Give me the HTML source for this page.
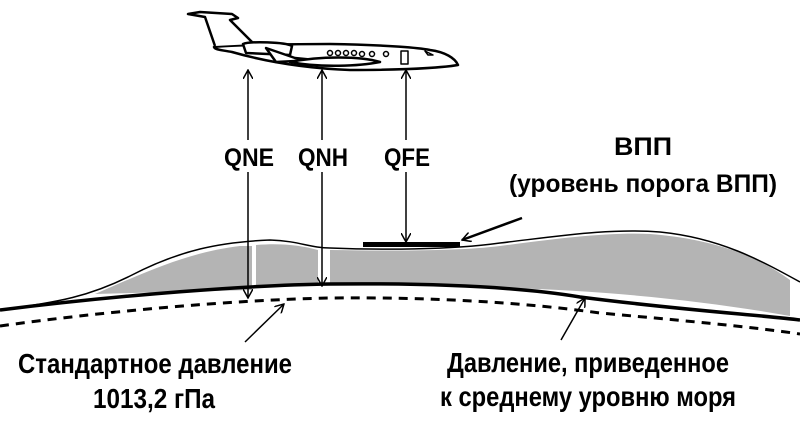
<!DOCTYPE html>
<html><head><meta charset="utf-8"><style>body{margin:0;background:#fff}svg{display:block}</style></head><body>
<svg width="800" height="442" viewBox="0 0 800 442" xmlns="http://www.w3.org/2000/svg" font-family="Liberation Sans, sans-serif" font-weight="bold">
<rect width="800" height="442" fill="#fff"/>
<defs><marker id="a" markerWidth="10" markerHeight="10" refX="9" refY="5" orient="auto-start-reverse" markerUnits="userSpaceOnUse"><path d="M0,0 L9,5 L0,10" fill="none" stroke="#000" stroke-width="1.5"/></marker></defs>
<path d="M95,294 C150,270 190,252 240,246 L252,246 L252,290 Z" fill="#b4b4b4"/>
<path d="M256,245 C280,243 300,245 318,250 L318,284 L256,288 Z" fill="#b4b4b4"/>
<path d="M330,250 C400,251 460,251 500,246 C560,238 610,232 650,234 C700,238 750,250 790,280 L790,316 C700,300 600,290 500,288 C430,285 380,284 330,284 Z" fill="#b4b4b4"/>
<path d="M0,310 C60,302 90,296 130,276 C180,250 220,242 270,240 C300,241 310,248 330,248 C380,250 450,250 500,243 C560,236 610,228 660,232 C720,238 760,260 800,282" fill="none" stroke="#000" stroke-width="1.5"/>
<path d="M0,310 C120,295 250,285 330,284 C430,283 520,287 580,297 C680,310 760,315 800,320" fill="none" stroke="#000" stroke-width="3.5"/>
<path d="M0,326 C100,312 230,300 330,298 C430,297 520,302 600,313 C700,322 760,328 800,334" fill="none" stroke="#000" stroke-width="3" stroke-dasharray="9,7"/>
<rect x="363" y="242" width="97" height="5" fill="#000"/>
<g stroke="#000" stroke-width="1.5">
<line x1="248" y1="70" x2="248" y2="298" marker-end="url(#a)" marker-start="url(#a)"/>
<line x1="322" y1="70" x2="322" y2="286" marker-end="url(#a)" marker-start="url(#a)"/>
<line x1="406" y1="70" x2="406" y2="242" marker-end="url(#a)" marker-start="url(#a)"/>
<line x1="522" y1="218" x2="462" y2="240" marker-end="url(#a)" stroke-width="2.5"/>
<line x1="245" y1="342" x2="284" y2="304" marker-end="url(#a)"/>
<line x1="561" y1="340" x2="585" y2="298" marker-end="url(#a)"/>
</g>
<rect x="220" y="140" width="58" height="32" fill="#fff"/>
<rect x="296" y="140" width="56" height="32" fill="#fff"/>
<rect x="380" y="140" width="54" height="32" fill="#fff"/>
<g font-size="25" text-anchor="middle">
<text x="249" y="166" textLength="50" lengthAdjust="spacingAndGlyphs">QNE</text>
<text x="323" y="166" textLength="50" lengthAdjust="spacingAndGlyphs">QNH</text>
<text x="407" y="166" textLength="46" lengthAdjust="spacingAndGlyphs">QFE</text>
<text x="643" y="155" textLength="58" lengthAdjust="spacingAndGlyphs">ВПП</text>
<text x="643" y="192" textLength="268" lengthAdjust="spacingAndGlyphs">(уровень порога ВПП)</text>
</g>
<g font-size="28">
<text x="18" y="373" textLength="274" lengthAdjust="spacingAndGlyphs">Стандартное давление</text>
<text x="93" y="408" textLength="122" lengthAdjust="spacingAndGlyphs">1013,2 гПа</text>
<text x="447" y="372" textLength="282" lengthAdjust="spacingAndGlyphs">Давление, приведенное</text>
<text x="440" y="406" textLength="296" lengthAdjust="spacingAndGlyphs">к среднему уровню моря</text>
</g>
<g fill="#fff" stroke="#000" stroke-width="2.5" stroke-linejoin="round">
<path d="M214,47 C230,45 300,44 330,44 C390,45 420,48 430,50 C445,52 455,58 458,65 C440,68 400,70 350,70 C300,68 260,60 232,52 C222,50 215,50 214,47 Z"/>
<path d="M215,46 L205,17 L188,14 L200,12 L232,14 L238,18 L230,20 L254,44" />
<path d="M243,44 L246,53 L290,55 L292,46 C285,42 250,41 243,44 Z"/>
<path d="M266,48 L276,62 L315,60 L295,58 Z"/>
<path d="M290,62 C320,56 360,56 380,62 C360,66 320,68 290,62 Z"/>
<rect x="401" y="51" width="7" height="13" stroke-width="1.5"/>
<path d="M425,51 L433,55 L428,55 Z" stroke-width="1.5"/>
</g>
<g fill="none" stroke="#000" stroke-width="1.5">
<circle cx="330" cy="53" r="2.5"/><circle cx="338" cy="53" r="2.5"/><circle cx="346" cy="53" r="2.5"/><circle cx="354" cy="53" r="2.5"/><circle cx="362" cy="54" r="2.5"/><circle cx="372" cy="54" r="2.5"/><circle cx="386" cy="54" r="2.5"/>
</g>
</svg>
</body></html>
